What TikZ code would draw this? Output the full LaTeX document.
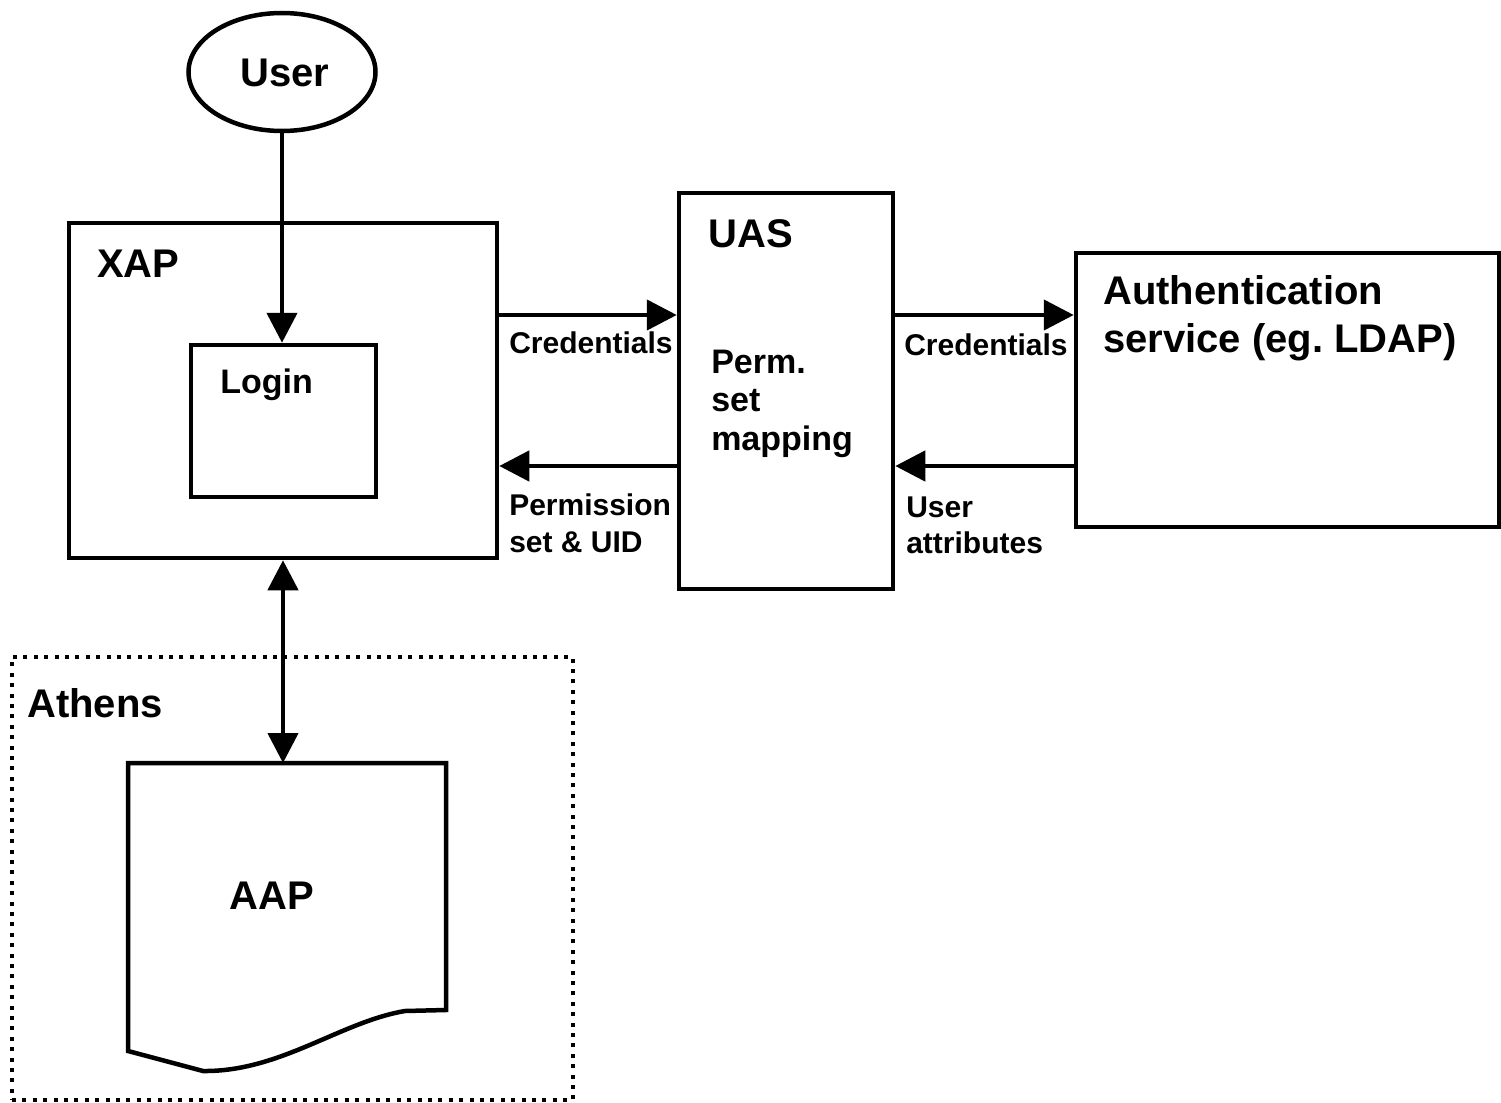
\documentclass[tikz,border=0pt]{standalone}
\usepackage{fontspec}
\setmainfont{Liberation Sans}
\usetikzlibrary{arrows.meta,shapes.geometric}
\begin{document}
\frenchspacing
\begin{tikzpicture}[x=0.5pt,y=-0.5pt,
  line width=2.25pt,
  box/.style={draw,rectangle,inner sep=0pt},
  big/.style={font=\fontsize{20}{24}\selectfont\bfseries,inner sep=0pt,anchor=base west},
  mid/.style={font=\fontsize{17}{20}\selectfont\bfseries,inner sep=0pt,anchor=base west},
  sml/.style={font=\fontsize{15}{18}\selectfont\bfseries,inner sep=0pt,anchor=base west},
  arr/.style={-{Triangle[length=15pt,width=15pt]}},
  darr/.style={{Triangle[length=15pt,width=15pt]}-{Triangle[length=15pt,width=15pt]}},
  dotbox/.style={draw,dash pattern=on 2pt off 3.2pt}]
\useasboundingbox (0,0) rectangle (1501,1103);
% shapes
\node[draw,ellipse,inner sep=0pt,minimum width=93.5pt,minimum height=59pt] (user) at (282,72) {};
\node[box,minimum width=214pt,minimum height=167.5pt] (xap) at (283,390.5) {};
\node[box,minimum width=92.5pt,minimum height=76pt] (login) at (283.5,421) {};
\node[box,minimum width=107pt,minimum height=198pt] (uas) at (786,391) {};
\node[box,minimum width=211.5pt,minimum height=137pt] (auth) at (1287.5,390) {};
\node[dotbox,rectangle,inner sep=0pt,minimum width=280.5pt,minimum height=221.5pt] (athens) at (292.5,878.5) {};
% document shape
\coordinate (aaptop) at (283,763);
\draw (128,763) -- (446,763) -- (446,1010) -- (405,1011)
  .. controls (340,1022) and (280,1072) .. (203,1071) -- (128,1051) -- cycle;
% texts
\node[big] (tuser) at (238,86) {User};
\node[big] (txap) at (95,277) {XAP};
\node[mid] (tlogin) at (218,393) {Login};
\node[big] (tuas) at (706,247) {UAS};
\node[mid] (tp1) at (709,373) {Perm.};
\node[mid] (tp2) at (709,411) {set};
\node[mid] (tp3) at (709,450) {mapping};
\node[big] (ta1) at (1101,304) {Authentication};
\node[big] (ta2) at (1101,352) {service (eg. LDAP)};
\node[sml] (tc1) at (507,353) {Credentials};
\node[sml] (tc2) at (902,355) {Credentials};
\node[sml] (tps1) at (507,515) {Permission};
\node[sml] (tps2) at (507,552) {set \& UID};
\node[sml] (tua1) at (904,517) {User};
\node[sml] (tua2) at (904,553) {attributes};
\node[big] (tath) at (25,717) {Athens};
\node[big] (taap) at (227,909) {AAP};
% connectors
\coordinate (ya) at (0,315);
\coordinate (yb) at (0,466);
\draw[arr] (user.south) -- (user.south |- login.north);
\draw[arr] (xap.east |- ya) -- (uas.west |- ya);
\draw[arr] (uas.east |- ya) -- (auth.west |- ya);
\draw[arr] (auth.west |- yb) -- (uas.east |- yb);
\draw[arr] (uas.west |- yb) -- (xap.east |- yb);
\draw[darr] (xap.south) -- (aaptop);
\end{tikzpicture}
\end{document}
